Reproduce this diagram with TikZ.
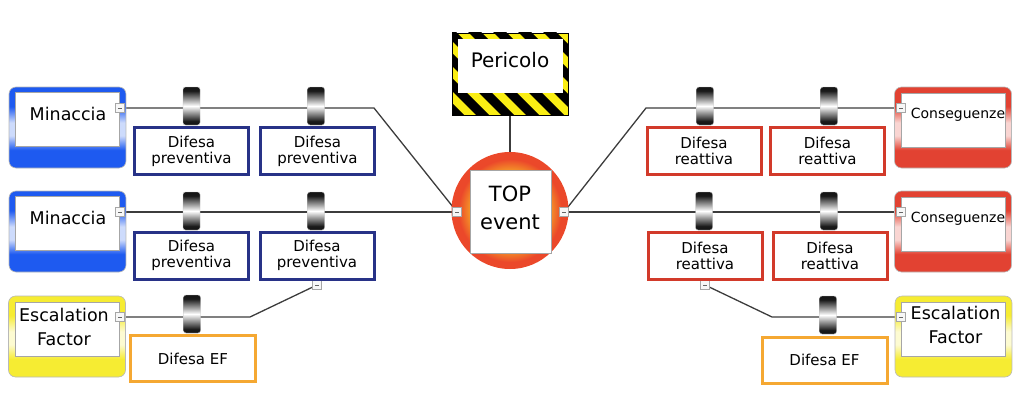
\documentclass[tikz,border=0pt]{standalone}
\usepackage{fontspec}
\setmainfont{DejaVu Sans}
\usetikzlibrary{backgrounds}
\definecolor{bowblue}{RGB}{30,90,240}
\definecolor{bowred}{RGB}{226,66,50}
\definecolor{bowyellow}{RGB}{246,236,50}
\definecolor{prevnavy}{RGB}{40,50,135}
\definecolor{reatred}{RGB}{210,58,42}
\definecolor{eforange}{RGB}{245,168,50}
\definecolor{linkgray}{RGB}{60,60,60}
\definecolor{hazyellow}{RGB}{250,238,20}
\definecolor{topred}{RGB}{235,72,42}
\definecolor{toporange}{RGB}{246,165,40}

\pgfdeclareverticalshading{blueframe}{100bp}{color(0bp)=(bowblue); color(36bp)=(bowblue); color(45bp)=(bowblue!22); color(53bp)=(bowblue!22); color(63bp)=(bowblue); color(100bp)=(bowblue)}
\pgfdeclareverticalshading{redframe}{100bp}{color(0bp)=(bowred); color(36bp)=(bowred); color(45bp)=(bowred!22); color(53bp)=(bowred!22); color(63bp)=(bowred); color(100bp)=(bowred)}
\pgfdeclareverticalshading{yellowframe}{100bp}{color(0bp)=(bowyellow); color(36bp)=(bowyellow); color(45bp)=(bowyellow!22); color(53bp)=(bowyellow!22); color(63bp)=(bowyellow); color(100bp)=(bowyellow)}
\pgfdeclareverticalshading{barrel}{100bp}{color(0bp)=(black); color(30bp)=(black!90); color(50bp)=(white); color(70bp)=(black!90); color(100bp)=(black)}
\pgfdeclareradialshading{topring}{\pgfpoint{0bp}{0bp}}{color(0bp)=(toporange); color(16bp)=(toporange); color(22bp)=(topred); color(25bp)=(topred); color(50bp)=(topred)}

\newcommand{\fsrc}{\fontsize{17.5}{24}\selectfont}
\newcommand{\fesc}{\fontsize{17.5}{24}\selectfont}
\newcommand{\fdef}{\fontsize{15}{16}\selectfont}
\newcommand{\fcons}{\fontsize{14}{16}\selectfont}
\newcommand{\ftop}{\fontsize{21}{28}\selectfont}
\newcommand{\fper}{\fontsize{20}{22}\selectfont}

\begin{document}
\begin{tikzpicture}[x=1pt,y=-1pt,
    frame/.style={rounded corners=7pt,draw=gray!55,line width=0.6pt,shade,shading=#1,
                  minimum width=117pt,minimum height=81pt,inner sep=0pt},
    inbox/.style={draw=gray!70,line width=0.6pt,fill=white,
                  minimum width=104pt,minimum height=54pt,inner sep=0pt},
    mns/.style={draw=gray!70,fill=gray!6,minimum size=9pt,inner sep=0pt,
                path picture={\draw[black!60,line width=0.9pt]
                  ([xshift=2.5pt]path picture bounding box.west) --
                  ([xshift=-2.5pt]path picture bounding box.east);}},
    barrier/.style={rounded corners=2.5pt,draw=gray!50,line width=0.4pt,shade,shading=barrel,
                    minimum width=17pt,minimum height=38pt,inner sep=0pt},
    prev/.style={draw=prevnavy,line width=3pt,fill=white,minimum width=114pt,
                 minimum height=47pt,inner sep=0pt,align=center,font=\fdef},
    reat/.style={prev,draw=reatred},
    efbox/.style={prev,draw=eforange,minimum width=125pt,minimum height=46pt},
    hazard/.style={draw=black,line width=0.8pt,minimum width=116pt,minimum height=82pt,inner sep=0pt,
                   path picture={
                     \fill[hazyellow] (path picture bounding box.south west) rectangle (path picture bounding box.north east);
                     \foreach \k in {-8,...,8}
                       \fill[black,shift={(path picture bounding box.center)}]
                         (\k*25-50,-50) -- ++(13,0) -- ++(100,100) -- ++(-13,0) -- cycle;}},
    topcirc/.style={circle,shade,shading=topring,minimum size=117pt,inner sep=0pt},
    link/.style={draw=linkgray,line width=1.3pt},
    stem/.style={draw=linkgray,line width=2.4pt}]
    \useasboundingbox (0,0) rectangle (1024,404);

    % threats and escalation (left)
    \node[frame=blueframe] (thr1) at (67.5,127.5) {};
    \node[inbox] (thr1in) at ([yshift=8pt]thr1.center) {};
    \node[font=\fsrc,anchor=base] (thr1t) at (68,120) {Minaccia};
    \node[frame=blueframe] (thr2) at (67.5,231.5) {};
    \node[inbox] (thr2in) at ([yshift=8pt]thr2.center) {};
    \node[font=\fsrc,anchor=base] (thr2t) at (68,224) {Minaccia};
    \node[frame=yellowframe] (esc1) at (67,336.5) {};
    \node[inbox] (esc1in) at ([yshift=7pt]esc1.center) {};
    \node[font=\fesc,align=center] (esc1t) at (64,327) {Escalation\\Factor};

    % consequences and escalation (right)
    \node[frame=redframe] (cns1) at (953,127.5) {};
    \node[inbox] (cns1in) at ([yshift=7pt]cns1.center) {};
    \node[font=\fcons,anchor=base] (cns1t) at (958,118) {Conseguenze};
    \node[frame=redframe] (cns2) at (953,231.5) {};
    \node[inbox] (cns2in) at ([yshift=7pt]cns2.center) {};
    \node[font=\fcons,anchor=base] (cns2t) at (958,222) {Conseguenze};
    \node[frame=yellowframe] (esc2) at (953.5,336.5) {};
    \node[inbox] (esc2in) at ([yshift=7pt]esc2.center) {};
    \node[font=\fesc,align=center] (esc2t) at (955.5,324.5) {Escalation\\Factor};

    % hazard and top event
    \node[hazard] (per) at (510,74) {};
    \node[inbox,draw=none,minimum width=105pt] (perin) at (510.5,66) {};
    \node[font=\fper,anchor=base] (pert) at (510,67) {Pericolo};
    \node[topcirc] (top) at (510,210.5) {};
    \node[inbox,minimum width=81pt,minimum height=83pt] (topin) at (510.5,211.5) {};
    \node[font=\ftop,align=center] (topt) at (510,208) {TOP\\event};

    \node[mns] (mm1) at (120,108) {};
    \node[mns] (mm2) at (120,212) {};
    \node[mns] (me1) at (120,317) {};
    \node[mns] (mc1) at (901,108) {};
    \node[mns] (mc2) at (901,212) {};
    \node[mns] (me2) at (901,317) {};
    \node[mns] (tl) at (457,212) {};
    \node[mns] (tr) at (564,212) {};
    \node[mns] (mp) at (317,285) {};
    \node[mns] (mr) at (705,285) {};

    \node[barrier] (b11) at (191.5,106) {};
    \node[barrier] (b12) at (316,106) {};
    \node[barrier] (b21) at (191.5,211) {};
    \node[barrier] (b22) at (316,211) {};
    \node[barrier] (b31) at (192,314) {};
    \node[barrier] (r11) at (705,106) {};
    \node[barrier] (r12) at (829,106) {};
    \node[barrier] (r21) at (704,211) {};
    \node[barrier] (r22) at (829,211) {};
    \node[barrier] (r31) at (828,315) {};

    \node[prev] (p11) at (191.5,151) {Difesa\\preventiva};
    \node[prev] (p12) at (317.5,151) {Difesa\\preventiva};
    \node[prev] (p21) at (191.5,255.5) {Difesa\\preventiva};
    \node[prev] (p22) at (317,255.5) {Difesa\\preventiva};
    \node[efbox] (ef1) at (193,358.5) {Difesa EF};
    \node[reat] (d11) at (704,151) {Difesa\\reattiva};
    \node[reat] (d12) at (827.5,151) {Difesa\\reattiva};
    \node[reat] (d21) at (705,255.5) {Difesa\\reattiva};
    \node[reat] (d22) at (830,255.5) {Difesa\\reattiva};
    \node[efbox] (ef2) at (824.5,360) {Difesa EF};

    \coordinate (k1) at (374,108);
    \coordinate (k2) at (250,317);
    \coordinate (k3) at (646,108);
    \coordinate (k4) at (772,317);

    \begin{scope}[on background layer]
    \draw[link] (mm1.east) -- (k1) -- (tl);
    \draw[link] (mm2.east) -- (tl);
    \draw[link] (me1.east) -- (k2) -- (mp);
    \draw[link] (tr) -- (k3) -- (mc1.west);
    \draw[link] (tr) -- (mc2.west);
    \draw[link] (mr) -- (k4) -- (me2.west);
    \draw[stem] (per.south) -- (top.north);
    \end{scope}
\end{tikzpicture}
\end{document}
